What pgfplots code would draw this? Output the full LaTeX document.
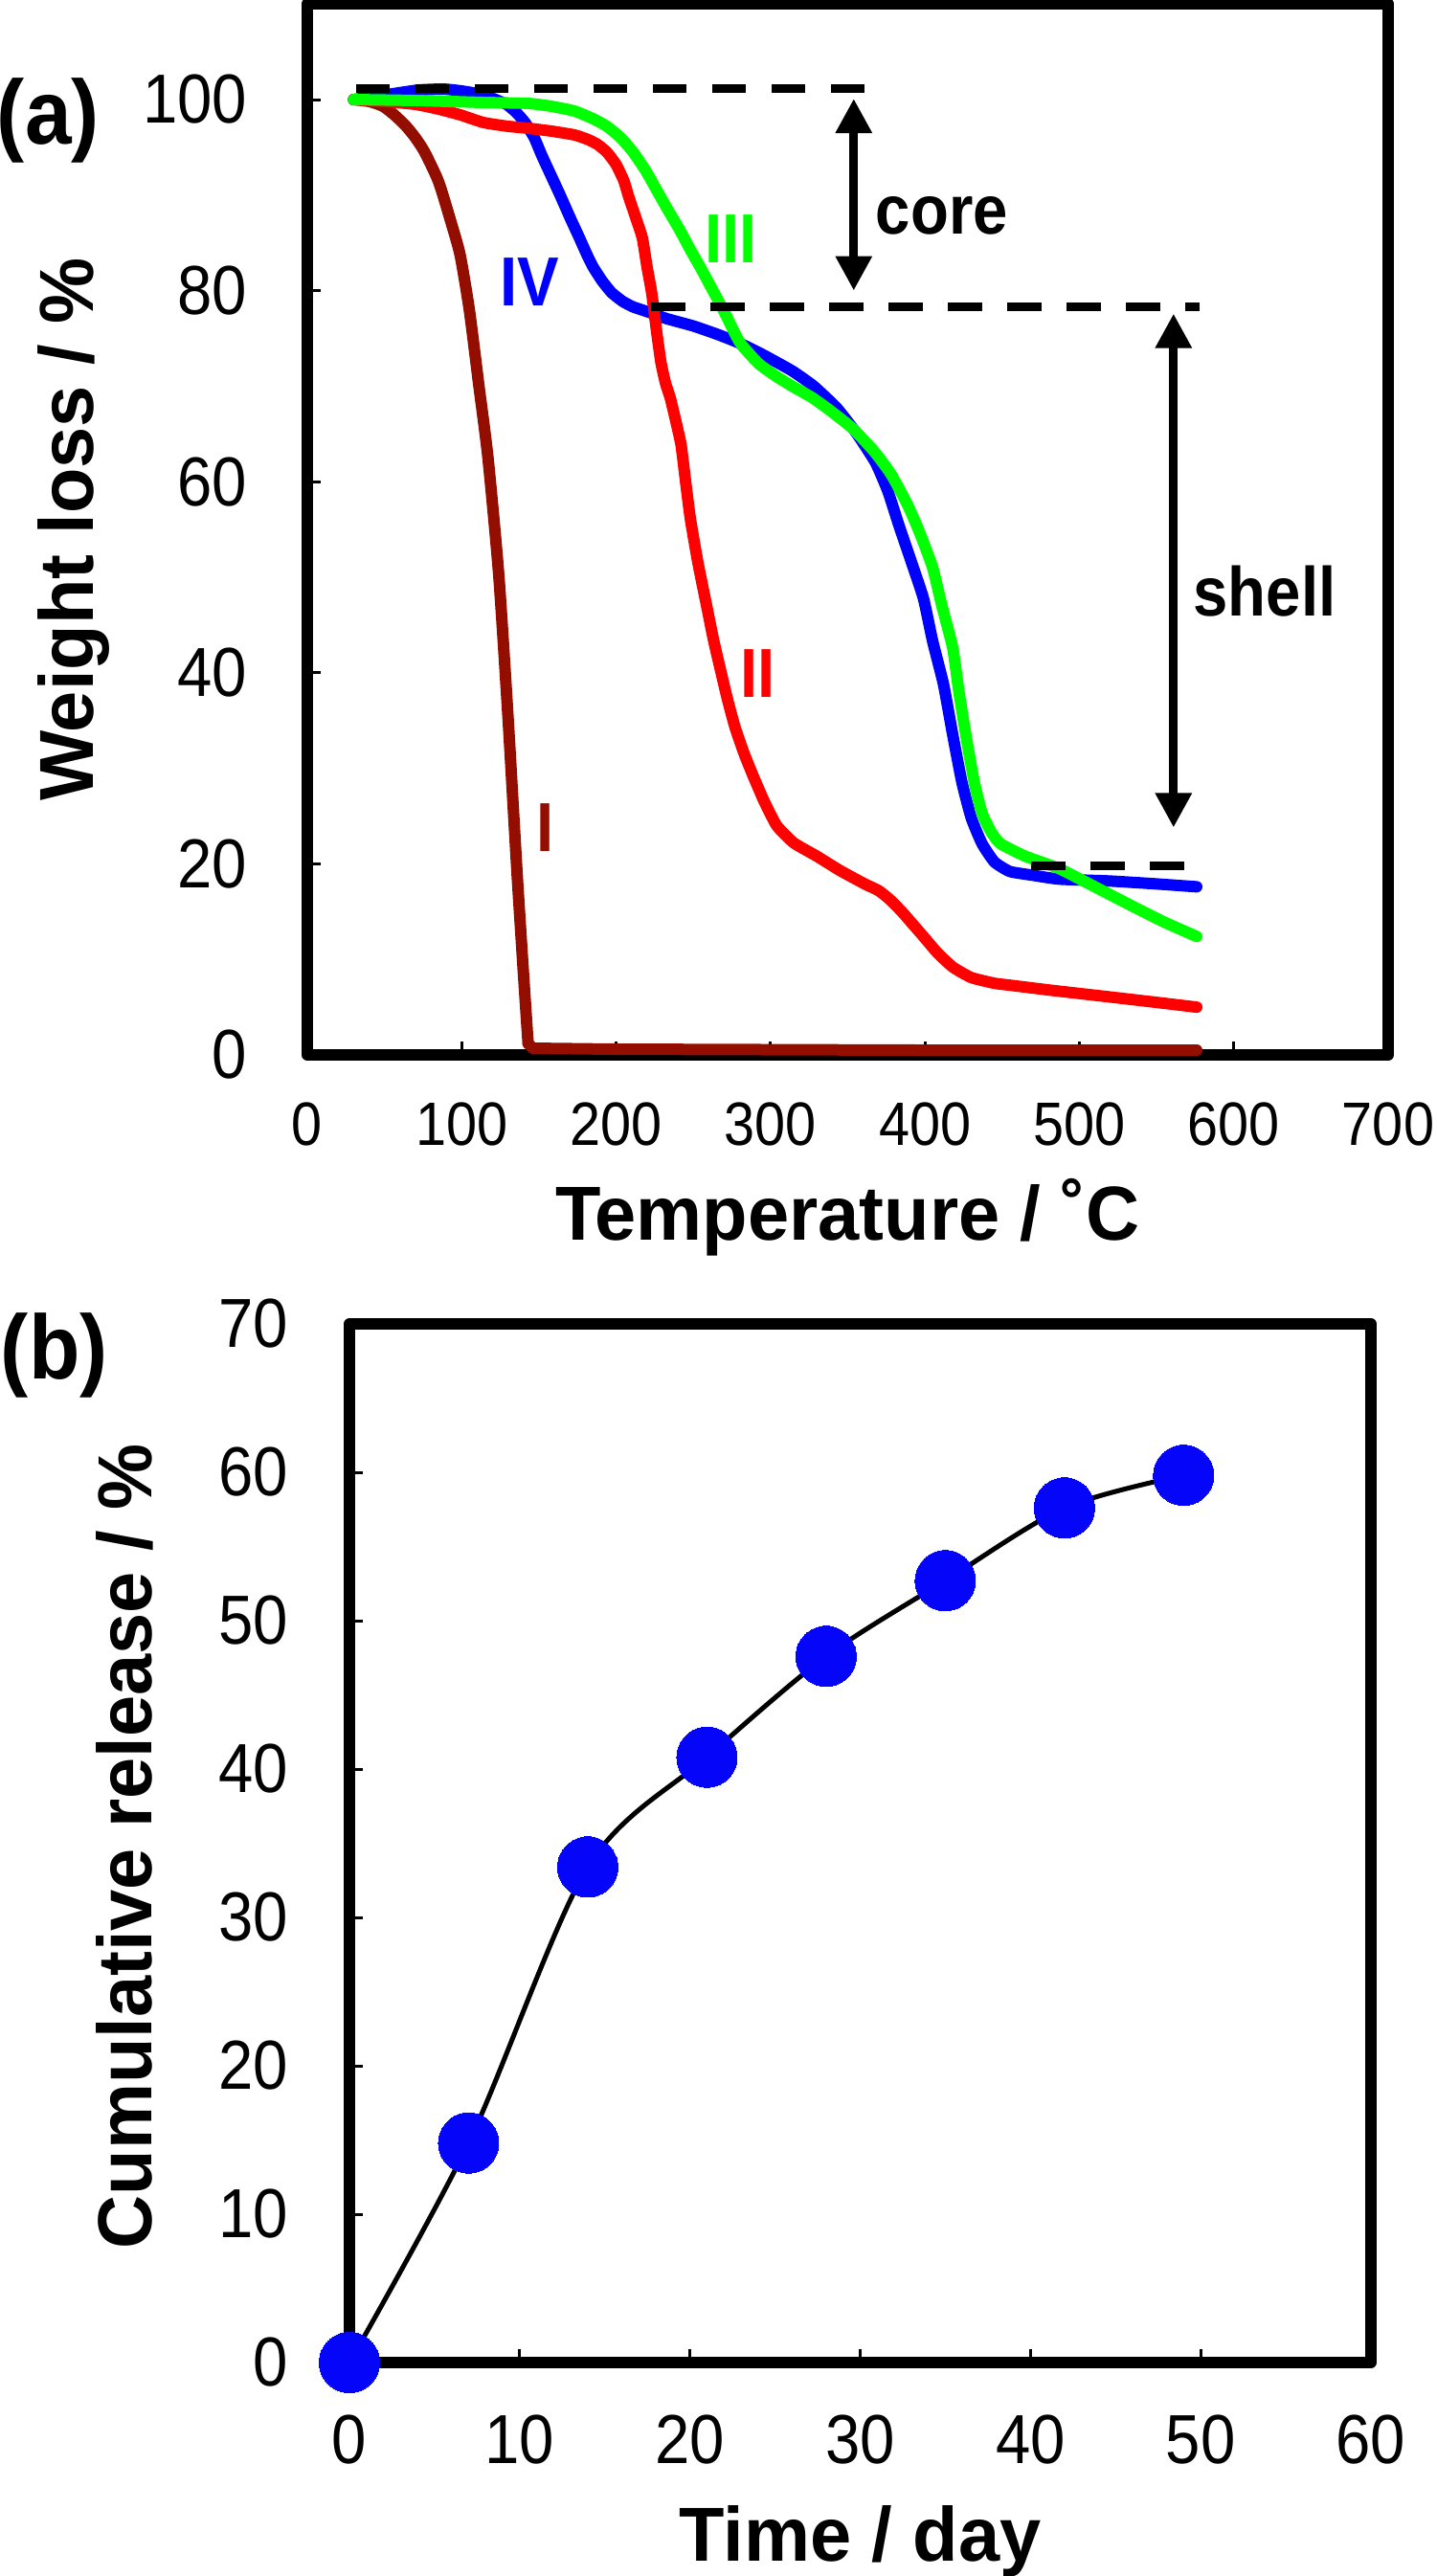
\documentclass[border=0pt]{standalone}
\usepackage{fontspec}
\setmainfont{Liberation Sans}
\usepackage{pgfplots}
\pgfplotsset{compat=1.18}
\usetikzlibrary{arrows.meta}
\newfontfamily\tickfam[FakeStretch=0.9]{Liberation Sans}
\newfontfamily\labfam[FakeStretch=0.97]{Liberation Sans}
\newfontfamily\annfam[FakeStretch=0.9]{Liberation Sans}
\newfontfamily\panfam[FakeStretch=0.92]{Liberation Sans}
\newcommand\tickA{\tickfam\fontsize{14.5}{17}\selectfont}
\newcommand\tickB{\tickfam\fontsize{12.8}{15}\selectfont}
\newcommand\labf{\labfam\bfseries\fontsize{16}{19}\selectfont}
\newcommand\annf{\annfam\bfseries\fontsize{14.5}{17}\selectfont}
\newcommand\panf{\panfam\bfseries\fontsize{19}{22}\selectfont}
\definecolor{cI}{RGB}{148,14,0}
\definecolor{cII}{RGB}{255,0,0}
\definecolor{cIII}{RGB}{0,255,0}
\definecolor{cIV}{RGB}{0,0,255}
\definecolor{cM}{RGB}{5,5,250}
\pgfplotsset{myax/.style={scale only axis, tick align=inside, xtick pos=bottom, ytick pos=left,
  major tick length=2.8pt, every tick/.append style={black,line width=0.6pt},
  axis line style={line width=2.4pt, line join=round},
  /pgf/number format/assume math mode=true,
  tick label style={font=\tickA, inner sep=0pt}, clip=false},
  crv/.style={line width=2.4pt, line cap=round, line join=round}}
\begin{document}
\begin{tikzpicture}
\path[use as bounding box] (0,0) rectangle (300pt,-538.2pt);
\node[font=\panf, anchor=base west, inner sep=0pt] at (-0.8pt,-30pt) {(a)};
\node[font=\panf, anchor=base west, inner sep=0pt] at (0pt,-288pt) {(b)};
\begin{axis}[myax, at={(64.2pt,-220.4pt)}, anchor=south west, width=225.8pt, height=219.56pt,
  xmin=0, xmax=700, ymin=0, ymax=110, xtick={0,100,...,700}, ytick={0,20,...,100},
  xticklabel style={font=\tickB, anchor=north, yshift=-9.8pt},
  yticklabel style={anchor=east, xshift=-12.4pt},
  xlabel={Temperature / ˚C}, ylabel={Weight loss / \%},
  every axis x label/.style={at={(axis description cs:0.5,-0.1758)}, anchor=base, font=\labf, inner sep=0pt},
  every axis y label/.style={at={(axis description cs:-0.1984,0.5)}, rotate=90, anchor=base, font=\labf, inner sep=0pt}]
% IV
\addplot[crv, cIV, smooth, tension=0.3] coordinates {(30,100)(55,100.6)(72,101)(88,101.1)(100,100.9)(114,100.5)(122,100)(129,99.5)(135,98.7)(141,97.6)(147,96)(152,94.1)(158,92)(164,89.9)(170,87.7)(176,85.6)(181,83.8)(185,82.5)(191,81)(197,79.8)(204,78.9)(211,78.3)(222,77.7)(232,77.1)(250,76.3)(266,75.4)(280,74.5)(295,73.3)(314,71.6)(328,70)(343,67.7)(356,65)(368,62)(376,59)(383,55.5)(391,51.7)(399,47.8)(405,43.3)(412,38.8)(418,33.5)(424,28.5)(430,24.8)(437,22.1)(445,20.2)(455,19.2)(470,18.8)(487,18.4)(520,18.2)(550,17.9)(576,17.6)};
% I
\addplot[crv, cI, smooth, tension=0.4] coordinates {(30,100)(40,99.8)(49,99.3)(57,98.3)(64,97.2)(70,96)(76,94.5)(85,91.4)(93,87.2)(99,83.7)(105,77.9)(111,70.2)(117,62.5)(124,50.2)(130,35.3)(136,18.6)(141,6)(143,1.2)};
\addplot[crv, cI] coordinates {(143,1.2)(146,0.7)(200,0.6)(400,0.5)(576,0.5)};
% II
\addplot[crv, cII, smooth, tension=0.3] coordinates {(30,100)(50,99.8)(70,99.5)(85,99)(99,98.4)(114,97.6)(130,97.2)(143,97)(158,96.7)(173,96.3)(182,95.8)(188,95.3)(194,94.5)(200,93.2)(205,91.5)(208,89.9)(213,87.5)(217,85.5)(220,82.5)(223,79.8)(226,76)(229,72.5)(232,70.3)(235,68.8)(238,66.8)(242,63.9)(245,60)(248,56.2)(253,51.5)(258,47.5)(263,43.5)(267,40.7)(272,37.3)(277,34.3)(283,31.5)(289,29.1)(296,26.5)(304,24)(315,22.2)(330,20.8)(345,19.3)(361,17.9)(370,17.2)(377,16.3)(385,15)(392,13.7)(399,12.4)(408,10.7)(418,9.2)(430,8.1)(445,7.5)(455,7.3)(480,6.8)(518,6.1)(550,5.5)(576,5.0)};
% III
\addplot[crv, cIII, smooth, tension=0.3] coordinates {(30,100)(70,99.9)(114,99.7)(143,99.6)(158,99.3)(173,98.8)(185,98)(194,97.2)(203,96)(211,94.5)(219,92.6)(226,90.6)(233,88.6)(241,86.4)(248,84.3)(255,82.3)(262,80.2)(270,77.8)(280,74.6)(292,72.4)(303,71.1)(314,70)(327,68.8)(339,67.4)(353,65.6)(367,63.2)(378,60.8)(389,57.5)(397,54.5)(405,51)(411,47)(418,42.6)(422,38)(427,33)(432,28.5)(437,25.3)(443,23.3)(449,22.1)(465,20.8)(487,19.5)(510,17.6)(534,15.6)(555,13.9)(576,12.4)};
% reference lines
\addplot[black, line width=1.8pt, dash pattern=on 7.1pt off 5.3pt] coordinates {(31.6,101.2)(362.4,101.2)};
\addplot[black, line width=1.8pt, dash pattern=on 7.1pt off 5.3pt] coordinates {(222.7,78.3)(577.6,78.3)};
\addplot[black, line width=1.8pt, dash pattern=on 7.1pt off 5.3pt] coordinates {(469,19.8)(568,19.8)};
\draw[{Triangle[width=7.2pt,length=7.2pt]}-{Triangle[width=7.2pt,length=7.2pt]}, line width=1.8pt] (axis cs:353.9,80.0) -- (axis cs:353.9,100.1);
\draw[{Triangle[width=7.2pt,length=7.2pt]}-{Triangle[width=7.2pt,length=7.2pt]}, line width=1.8pt] (axis cs:561,23.8) -- (axis cs:561,77.6);
\node[font=\annf, anchor=center, inner sep=0pt] at (axis cs:411,87.8) {core};
\node[font=\annf, anchor=base, inner sep=0pt] at (axis cs:620,45.9) {shell};
\node[font=\annf, text=cIII, anchor=base, inner sep=0pt] at (axis cs:274.6,82.9) {III};
\node[font=\annf, text=cII, anchor=base, inner sep=0pt] at (axis cs:292,37.4) {II};
\node[font=\annf, text=cIV, anchor=base, inner sep=0pt] at (axis cs:143.8,78.4) {IV};
\node[font=\annf, text=cI, anchor=base, inner sep=0pt] at (axis cs:154,21.3) {I};
\end{axis}
\begin{axis}[myax, at={(73pt,-493.6pt)}, anchor=south west, width=213.4pt, height=217pt,
  xmin=0, xmax=60, ymin=0, ymax=70, xtick={0,10,...,60}, ytick={0,10,...,70},
  xticklabel style={anchor=north, yshift=-10.8pt},
  yticklabel style={anchor=east, xshift=-12.6pt},
  xlabel={Time / day}, ylabel={Cumulative release / \%},
  every axis x label/.style={at={(axis description cs:0.5,-0.1908)}, anchor=base, font=\labf, inner sep=0pt},
  every axis y label/.style={at={(axis description cs:-0.1931,0.497)}, rotate=90, anchor=base, font=\labf, inner sep=0pt}]
\addplot[black, line width=1pt, smooth] coordinates {(0,0)(7,14.8)(14,33.4)(21,40.8)(28,47.6)(35,52.7)(42,57.6)(49,59.8)};
\addplot[only marks, color=cM, mark=*, mark size=6.3pt, mark options={fill=cM, draw=cM, line width=0pt}] coordinates {(0,0)(7,14.8)(14,33.4)(21,40.8)(28,47.6)(35,52.7)(42,57.6)(49,59.8)};
\end{axis}
\end{tikzpicture}
\end{document}
